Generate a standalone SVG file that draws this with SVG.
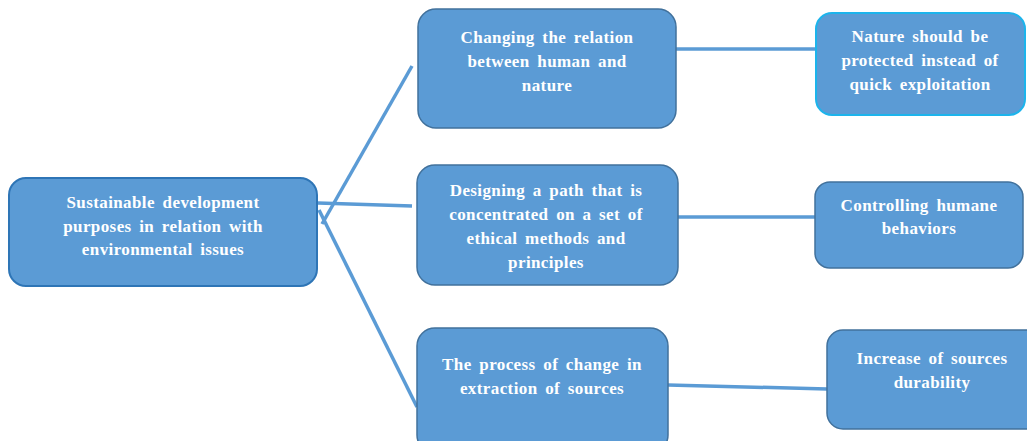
<svg xmlns="http://www.w3.org/2000/svg" width="1027" height="441" viewBox="0 0 1027 441">
  <style>
    .box { fill: #5b9bd5; stroke: #41719c; stroke-width: 1.5; }
    .box.root { stroke: #2e75b6; stroke-width: 2; }
    .box.cyan { stroke: #1cb4ec; stroke-width: 2; }
    .lbl { font-family: "Liberation Serif", "Times New Roman", serif; font-weight: bold; font-size: 17px; fill: #ffffff; text-anchor: middle; letter-spacing: 0.4px; word-spacing: 3px; }
    .link { stroke: #5b9bd5; stroke-width: 3.5; fill: none; }
  </style>
  <rect width="1027" height="441" fill="#ffffff"/>

  <g id="connectors">
    <line class="link" x1="412" y1="66" x2="322" y2="224"/>
    <line class="link" x1="318" y1="203" x2="412" y2="206"/>
    <line class="link" x1="319" y1="210" x2="417" y2="407"/>
    <line class="link" x1="676" y1="49" x2="816" y2="49"/>
    <line class="link" x1="678" y1="217" x2="815" y2="217"/>
    <line class="link" x1="668" y1="385" x2="827" y2="389"/>
  </g>

  <g id="root">
    <rect class="box root" x="9" y="178" width="308" height="108" rx="17"/>
    <text class="lbl" x="163" y="208">Sustainable development</text>
    <text class="lbl" x="163" y="232">purposes in relation with</text>
    <text class="lbl" x="163" y="255">environmental issues</text>
  </g>

  <g id="changing">
    <rect class="box" x="418" y="9" width="258" height="119" rx="18"/>
    <text class="lbl" x="547" y="43">Changing the relation</text>
    <text class="lbl" x="547" y="67">between human and</text>
    <text class="lbl" x="547" y="91">nature</text>
  </g>

  <g id="designing">
    <rect class="box" x="417" y="165" width="261" height="120" rx="18"/>
    <text class="lbl" x="546" y="196">Designing a path that is</text>
    <text class="lbl" x="546" y="220">concentrated on a set of</text>
    <text class="lbl" x="546" y="244">ethical methods and</text>
    <text class="lbl" x="546" y="268">principles</text>
  </g>

  <g id="process">
    <rect class="box" x="417" y="328" width="251" height="125" rx="18"/>
    <text class="lbl" x="542" y="370">The process of change in</text>
    <text class="lbl" x="542" y="394">extraction of sources</text>
  </g>

  <g id="nature">
    <rect class="box cyan" x="816" y="13" width="209" height="102" rx="16"/>
    <text class="lbl" x="920" y="42">Nature should be</text>
    <text class="lbl" x="920" y="66">protected instead of</text>
    <text class="lbl" x="920" y="90">quick exploitation</text>
  </g>

  <g id="controlling">
    <rect class="box" x="815" y="182" width="208" height="86" rx="15"/>
    <text class="lbl" x="919" y="211">Controlling humane</text>
    <text class="lbl" x="919" y="234">behaviors</text>
  </g>

  <g id="increase">
    <rect class="box" x="827" y="330" width="215" height="99" rx="16"/>
    <text class="lbl" x="932" y="364">Increase of sources</text>
    <text class="lbl" x="932" y="388">durability</text>
  </g>
</svg>
